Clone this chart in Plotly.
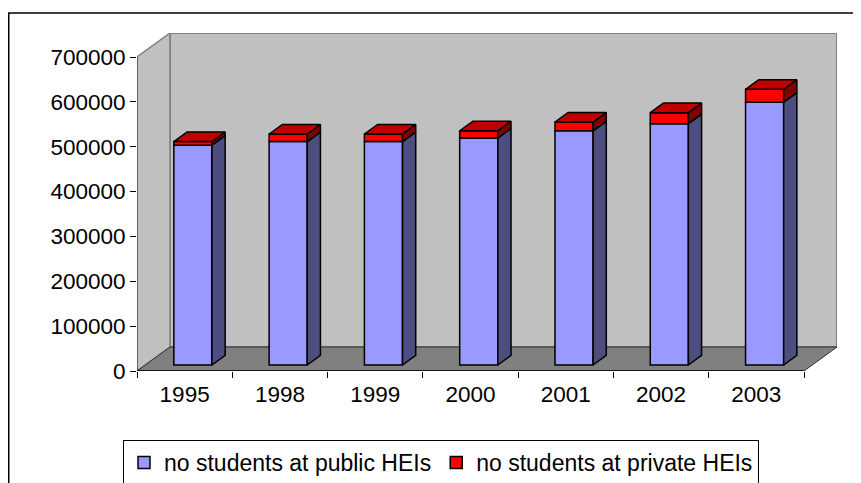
import plotly.graph_objects as go

# ---------------- data ----------------
years = ["1995", "1998", "1999", "2000", "2001", "2002", "2003"]
public_students = [490000, 498000, 498000, 506000, 522000, 538000, 586000]
private_students = [8000, 17000, 17000, 16000, 19500, 24500, 28500]
series_names = ["no students at public HEIs", "no students at private HEIs"]
y_ticks = [0, 100000, 200000, 300000, 400000, 500000, 600000, 700000]

# ---------------- pseudo-3D geometry (layout constants) ----------------
W, H = 861, 483
OFF = 8                             # page body margin compensation
PLOT_L, PLOT_R, PLOT_T, PLOT_B = 137 - OFF, 837 - OFF, 33 - OFF, 371 - OFF
PW, PH = PLOT_R - PLOT_L, PLOT_B - PLOT_T
FRONT_W = 667                      # px width of the front floor edge
N = len(years)
PX_PER_CAT = FRONT_W / N
DEPTH_PX_X, DEPTH_PX_Y = 33, 24
Y_TOP = 700000
PX_PER_VAL = (371 - 57) / Y_TOP
DX = DEPTH_PX_X / PX_PER_CAT       # full depth in category units
DY = DEPTH_PX_Y / PX_PER_VAL       # full depth in value units
F0, F1 = 0.25, 0.65                # bar depth position (front, back)
HALF = 0.2                         # half bar width in category units
ddx, ddy = (F1 - F0) * DX, (F1 - F0) * DY
xr = [-0.5, N - 0.5 + DX]
yr = [0, Y_TOP + DY]

PUB_FRONT, PUB_SIDE = "#9999FF", "#4D4D80"
PRI_FRONT, PRI_SIDE, PRI_TOP = "#FF0000", "#800000", "#C00000"
EDGE = "black"
LW = 1.5
FONT = "Liberation Sans, Arial, sans-serif"


def px_x(p):
    return (p - PLOT_L) / PW


def px_y(p):
    return (PLOT_B - p) / PH


fig = go.Figure()

xs = [i + F0 * DX for i in range(N)]
base0 = F0 * DY

# front faces (library bars)
fig.add_trace(go.Bar(
    x=xs, y=public_students, base=[base0] * N, width=2 * HALF,
    name=series_names[0], marker=dict(color=PUB_FRONT, line=dict(color=EDGE, width=LW)),
))
fig.add_trace(go.Bar(
    x=xs, y=private_students, base=[base0 + p for p in public_students], width=2 * HALF,
    name=series_names[1], marker=dict(color=PRI_FRONT, line=dict(color=EDGE, width=LW)),
))


def side_faces(lows, highs):
    px, py = [], []
    for i in range(N):
        x1 = xs[i] + HALF
        lo, hi = lows[i] + base0, highs[i] + base0
        px += [x1, x1 + ddx, x1 + ddx, x1, x1, None]
        py += [lo, lo + ddy, hi + ddy, hi, lo, None]
    return px, py


def top_faces(tops):
    px, py = [], []
    for i in range(N):
        x0, x1 = xs[i] - HALF, xs[i] + HALF
        t = tops[i] + base0
        px += [x0, x1, x1 + ddx, x0 + ddx, x0, None]
        py += [t, t, t + ddy, t + ddy, t, None]
    return px, py


totals = [a + b for a, b in zip(public_students, private_students)]
sx, sy = side_faces([0] * N, public_students)
fig.add_trace(go.Scatter(x=sx, y=sy, mode="lines", fill="toself", fillcolor=PUB_SIDE,
                         line=dict(color=EDGE, width=LW), showlegend=False, hoverinfo="skip"))
sx, sy = side_faces(public_students, totals)
fig.add_trace(go.Scatter(x=sx, y=sy, mode="lines", fill="toself", fillcolor=PRI_SIDE,
                         line=dict(color=EDGE, width=LW), showlegend=False, hoverinfo="skip"))
tx, ty = top_faces(totals)
fig.add_trace(go.Scatter(x=tx, y=ty, mode="lines", fill="toself", fillcolor=PRI_TOP,
                         line=dict(color=EDGE, width=LW), showlegend=False, hoverinfo="skip"))

# walls / floor
x_l, x_r = -0.5, N - 0.5
shapes = [
    # back wall
    dict(type="path", xref="x", yref="y", layer="below",
         path=f"M{x_l+DX},{DY} L{x_r+DX},{DY} L{x_r+DX},{Y_TOP+DY} L{x_l+DX},{Y_TOP+DY} Z",
         fillcolor="#C0C0C0", line=dict(color="#808080", width=2)),
    # left wall
    dict(type="path", xref="x", yref="y", layer="below",
         path=f"M{x_l},0 L{x_l},{Y_TOP} L{x_l+DX},{Y_TOP+DY} L{x_l+DX},{DY} Z",
         fillcolor="#C0C0C0", line=dict(color="#808080", width=1.5)),
    # floor
    dict(type="path", xref="x", yref="y", layer="below",
         path=f"M{x_l},0 L{x_r},0 L{x_r+DX},{DY} L{x_l+DX},{DY} Z",
         fillcolor="#808080", line=dict(color="#333333", width=1)),
    # axis lines
    dict(type="line", xref="x", yref="y", x0=x_l, x1=x_r, y0=0, y1=0,
         line=dict(color="black", width=1.5)),
    dict(type="line", xref="x", yref="y", x0=x_l, x1=x_l, y0=0, y1=Y_TOP,
         line=dict(color="#333333", width=1)),
    # outer chart border
    dict(type="rect", xref="paper", yref="paper",
         x0=px_x(0.75), x1=px_x(W + 20), y0=px_y(H + 20), y1=px_y(13 - OFF),
         line=dict(color="black", width=1.5), layer="below"),
]

fig.update_layout(
    width=W, height=H,
    margin=dict(l=PLOT_L, r=W - PLOT_R, t=PLOT_T, b=H - PLOT_B, autoexpand=False),
    paper_bgcolor="white", plot_bgcolor="white",
    barmode="overlay",
    shapes=shapes,
    font=dict(family=FONT, color="black", size=22),
    showlegend=True,
    legend=dict(
        orientation="h", x=px_x(123 - OFF), xanchor="left",
        y=px_y(440 - OFF), yanchor="top",
        bordercolor="black", borderwidth=1, bgcolor="white",
        font=dict(family=FONT, size=23, color="black"),
        traceorder="normal",
    ),
    xaxis=dict(
        range=xr, tickmode="array", tickvals=list(range(N)), ticktext=years,
        ticks="", showgrid=False, zeroline=False, showline=False,
        ticklabelstandoff=7,
        tickfont=dict(family=FONT, size=22.5, color="black"),
        minor=dict(tickmode="array", tickvals=[i - 0.5 for i in range(N + 1)],
                   ticks="outside", ticklen=6, tickcolor="black", tickwidth=1, showgrid=False),
    ),
    yaxis=dict(
        range=yr, tickmode="array", tickvals=y_ticks, ticktext=[str(v) for v in y_ticks],
        ticks="outside", ticklen=6, tickcolor="black", tickwidth=1,
        showgrid=False, zeroline=False, showline=False,
        tickfont=dict(family=FONT, size=22.5, color="black"),
    ),
)

fig.write_html("out.html")
